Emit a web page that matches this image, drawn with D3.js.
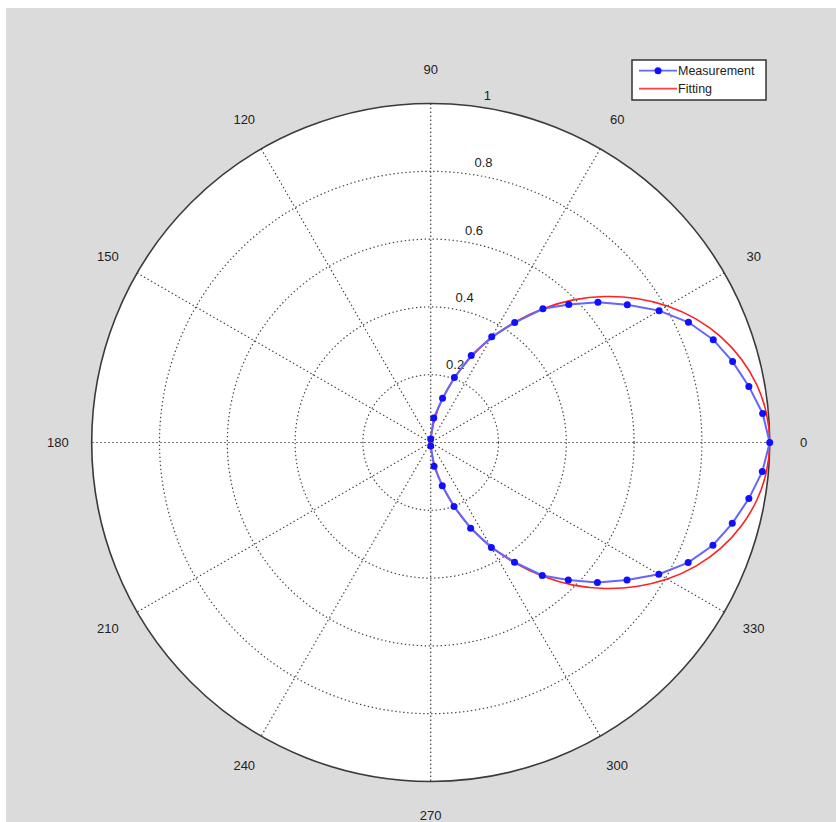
<!DOCTYPE html>
<html>
<head>
<meta charset="utf-8">
<script src="https://cdn.jsdelivr.net/npm/d3@7"></script>
<style>
  body { margin: 0; background: #ffffff; }
  svg text { font-family: "Liberation Sans", Arial, sans-serif; fill: #222; }
</style>
</head>
<body>
<div id="chart"></div>
<script>
// angles in degrees (counter-clockwise from 0), radius in plot units
const measAngles = [-90, -82, -75, -70, -65, -60, -55, -50, -45, -40, -35, -30, -25, -20, -15, -10, -5,
  0, 5, 10, 15, 20, 25, 30, 35, 40, 45, 50, 55, 60, 65, 70, 75, 83, 90];
const measR = [0.01, 0.071, 0.132, 0.201, 0.279, 0.358, 0.431, 0.512, 0.574, 0.642, 0.707, 0.777, 0.838, 0.886, 0.921, 0.953, 0.982,
  1.0, 0.983, 0.953, 0.922, 0.887, 0.839, 0.778, 0.708, 0.644, 0.576, 0.515, 0.432, 0.36, 0.283, 0.204, 0.135, 0.073, 0.01];

const fitAngles = [-90, -85, -80, -75, -70, -65, -60, -55, -50, -45, -40, -35, -30, -25, -20, -15, -10, -5,
  0, 5, 10, 15, 20, 25, 30, 35, 40, 45, 50, 55, 60, 65, 70, 75, 80, 85, 90];
const fitR = [0, 0.026, 0.072, 0.132, 0.200, 0.275, 0.354, 0.434, 0.515, 0.595, 0.670, 0.741, 0.806, 0.863, 0.911, 0.949, 0.977, 0.994,
  1.0, 0.994, 0.977, 0.949, 0.911, 0.863, 0.806, 0.741, 0.670, 0.595, 0.515, 0.434, 0.354, 0.275, 0.200, 0.132, 0.072, 0.026, 0];

const rTicks = [0.2, 0.4, 0.6, 0.8, 1];
const rTickLabels = ["0.2", "0.4", "0.6", "0.8", "1"];
const spokeAngles = [0, 30, 60, 90, 120, 150];
const angleTickAngles = [0, 30, 60, 90, 120, 150, 180, 210, 240, 270, 300, 330];
const angleTickLabels = ["0", "30", "60", "90", "120", "150", "180", "210", "240", "270", "300", "330"];
const seriesNames = ["Measurement", "Fitting"];

const width = 836, height = 822;
const cx = 430.7, cy = 442.5, R = 339;

const svg = d3.select("#chart")
  .append("svg")
  .attr("width", width)
  .attr("height", height);

// grey figure background with a thin white strip at top/left
svg.append("rect")
  .attr("x", 6).attr("y", 8)
  .attr("width", width - 6).attr("height", height - 8)
  .attr("fill", "#dbdbdb");

const g = svg.append("g")
  .attr("transform", `translate(${cx}, ${cy})`);

const rScale = d3.scaleLinear().domain([0, 1]).range([0, R]);
const toRad = d => d * Math.PI / 180;
// d3 radial angle: 0 at 12 o'clock, clockwise
const radial = d => Math.PI / 2 - toRad(d);
const px = (a, r) => rScale(r) * Math.cos(toRad(a));
const py = (a, r) => -rScale(r) * Math.sin(toRad(a));

// white plot disc
g.append("circle")
  .attr("r", rScale(1))
  .attr("fill", "#ffffff");

// dotted grid circles
g.selectAll("circle.grid")
  .data(rTicks.filter(t => t < 1))
  .join("circle")
    .attr("class", "grid")
    .attr("r", d => rScale(d))
    .attr("fill", "none")
    .attr("stroke", "#444")
    .attr("stroke-width", 1.2)
    .attr("stroke-dasharray", "1.4,2.6");

// spokes across the whole diameter
g.selectAll("line.spoke")
  .data(spokeAngles)
  .join("line")
    .attr("class", "spoke")
    .attr("x1", d => px(d, 1)).attr("y1", d => py(d, 1))
    .attr("x2", d => px(d + 180, 1)).attr("y2", d => py(d + 180, 1))
    .attr("stroke", "#444")
    .attr("stroke-width", 1.2)
    .attr("stroke-dasharray", "1.4,2.6");

// outer circle
g.append("circle")
  .attr("r", rScale(1))
  .attr("fill", "none")
  .attr("stroke", "#3a3a3a")
  .attr("stroke-width", 1.6);

// radial tick labels along 82 degrees
g.selectAll("text.rlab")
  .data(rTicks)
  .join("text")
    .attr("class", "rlab")
    .attr("x", d => px(82, d) + 6)
    .attr("y", d => py(82, d) - 6.5)
    .attr("font-size", 13)
    .text((d, i) => rTickLabels[i]);

// angle labels
g.selectAll("text.alab")
  .data(angleTickAngles)
  .join("text")
    .attr("class", "alab")
    .attr("x", d => px(d, 1.1))
    .attr("y", d => py(d, 1.1))
    .attr("text-anchor", "middle")
    .attr("dominant-baseline", "central")
    .attr("font-size", 13)
    .text((d, i) => angleTickLabels[i]);

// fitting curve
const fitData = fitAngles.map((a, i) => [radial(a), rScale(fitR[i])]);
g.append("path")
  .datum(fitData)
  .attr("d", d3.lineRadial().curve(d3.curveCatmullRom))
  .attr("fill", "none")
  .attr("stroke", "#ff2020")
  .attr("stroke-width", 1.6);

// measurement line + markers
const measData = measAngles.map((a, i) => [radial(a), rScale(measR[i])]);
g.append("path")
  .datum(measData)
  .attr("d", d3.lineRadial())
  .attr("fill", "none")
  .attr("stroke", "#6464ff")
  .attr("stroke-width", 2);

g.selectAll("circle.meas")
  .data(measAngles)
  .join("circle")
    .attr("class", "meas")
    .attr("cx", (d, i) => px(d, measR[i]))
    .attr("cy", (d, i) => py(d, measR[i]))
    .attr("r", 3.5)
    .attr("fill", "#1010ff");

// legend
const legend = svg.append("g")
  .attr("transform", "translate(632, 60)");

legend.append("rect")
  .attr("width", 134).attr("height", 40)
  .attr("fill", "#ffffff")
  .attr("stroke", "#333")
  .attr("stroke-width", 1.5);

const legendColors = ["#6464ff", "#ff4040"];
seriesNames.forEach((name, i) => {
  const row = legend.append("g").attr("transform", `translate(0, ${10.7 + i * 18})`);
  row.append("line")
    .attr("x1", 7).attr("x2", 45)
    .attr("stroke", legendColors[i])
    .attr("stroke-width", 1.8);
  if (i === 0) {
    row.append("circle").attr("cx", 26).attr("r", 3.5).attr("fill", "#1010ff");
  }
  row.append("text")
    .attr("x", 46)
    .attr("y", 0)
    .attr("dominant-baseline", "central")
    .attr("font-size", 12.5)
    .text(name);
});
</script>
</body>
</html>
